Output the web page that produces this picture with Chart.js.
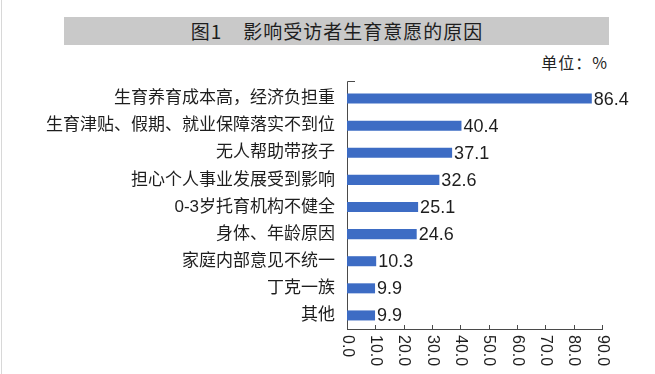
<!DOCTYPE html>
<html>
<head>
<meta charset="utf-8">
<script src="https://cdn.jsdelivr.net/npm/chart.js@4"></script>
<style>
  html, body { margin: 0; padding: 0; background: #fff; }
  #wrap { position: relative; width: 655px; height: 374px; overflow: hidden; }
  #edge { position: absolute; left: 1px; top: 0; width: 1px; height: 374px; background: #d8d8d8; }
  #titleBox {
    position: absolute; left: 64px; top: 17px; width: 544px; height: 28px;
    background: #c9c9c9; color: #1e1e1e;
    font: 19px "Noto Sans CJK SC", sans-serif; letter-spacing: 1px;
    line-height: 28px; text-align: center; padding-left: 1px;
  }
  #unit {
    position: absolute; right: 47px; top: 50px;
    font: 16px "Noto Sans CJK SC", sans-serif; color: #222; letter-spacing: 1px;
  }
  canvas { position: absolute; left: 0; top: 0; }
</style>
</head>
<body>
<div id="wrap">
  <div id="edge"></div>
  <div id="titleBox">图1&ensp;&ensp;影响受访者生育意愿的原因</div>
  <div id="unit">单位：%</div>
  <canvas id="chart" width="655" height="374"></canvas>
</div>
<script>
const causes = [
  "生育养育成本高，经济负担重",
  "生育津贴、假期、就业保障落实不到位",
  "无人帮助带孩子",
  "担心个人事业发展受到影响",
  "0-3岁托育机构不健全",
  "身体、年龄原因",
  "家庭内部意见不统一",
  "丁克一族",
  "其他",
];
const percents = [86.4, 40.4, 37.1, 32.6, 25.1, 24.6, 10.3, 9.9, 9.9];
const axisTicks = [0, 10, 20, 30, 40, 50, 60, 70, 80, 90];

const textFont = '"Liberation Sans", "Noto Sans CJK SC", sans-serif';
const axisColor = "#4a4a4a";

// valeurs au bout des barres + etiquettes de l'axe x tournees
const extras = {
  id: "extras",
  afterDatasetsDraw(chart) {
    const ctx = chart.ctx;
    const meta = chart.getDatasetMeta(0);
    ctx.save();
    ctx.fillStyle = "#1e1e1e";
    ctx.font = "18px " + textFont;
    ctx.textAlign = "left";
    ctx.textBaseline = "middle";
    meta.data.forEach((bar, i) => {
      ctx.fillText(percents[i].toFixed(1), bar.x + 2, bar.y + 1);
    });
    ctx.restore();
  },
  afterDraw(chart) {
    const ctx = chart.ctx;
    const xs = chart.scales.x;
    const area = chart.chartArea;
    ctx.save();
    ctx.strokeStyle = axisColor;
    ctx.lineWidth = 1;
    // prolongement de l'axe y et petit trait en haut
    ctx.beginPath();
    ctx.moveTo(area.left + 0.5, area.top);
    ctx.lineTo(area.left + 0.5, area.top - 3.5);
    ctx.lineTo(area.left + 8, area.top - 3.5);
    ctx.stroke();
    // graduations vers l'interieur
    axisTicks.forEach((v) => {
      const x = Math.round(xs.getPixelForValue(v)) + 0.5;
      ctx.beginPath();
      ctx.moveTo(x, area.bottom);
      ctx.lineTo(x, area.bottom - 4);
      ctx.stroke();
    });
    ctx.fillStyle = "#1e1e1e";
    ctx.font = "16px " + textFont;
    ctx.textAlign = "left";
    ctx.textBaseline = "middle";
    axisTicks.forEach((v) => {
      const x = xs.getPixelForValue(v);
      ctx.save();
      ctx.translate(x, area.bottom + 6);
      ctx.rotate(Math.PI / 2);
      ctx.fillText(v.toFixed(1), 0, 0);
      ctx.restore();
    });
    ctx.restore();
  },
};

new Chart(document.getElementById("chart"), {
  type: "bar",
  data: {
    labels: causes,
    datasets: [
      {
        data: percents,
        backgroundColor: "#3d6cc4",
        borderWidth: 0,
        categoryPercentage: 1,
        barPercentage: 0.37,
      },
    ],
  },
  options: {
    indexAxis: "y",
    responsive: false,
    animation: false,
    events: [],
    layout: { padding: { top: 85, right: 53, left: 0, bottom: 0 } },
    plugins: { legend: { display: false }, tooltip: { enabled: false } },
    scales: {
      x: {
        min: 0,
        max: 90,
        ticks: { display: false, stepSize: 10 },
        grid: { display: false, drawTicks: false },
        border: { display: true, color: axisColor, width: 1 },
        afterFit(scale) {
          scale.height = 45;
        },
      },
      y: {
        ticks: {
          color: "#1e1e1e",
          font: { family: textFont, size: 17 },
          padding: 12,
        },
        grid: { display: false, drawTicks: false },
        border: { display: true, color: axisColor, width: 1 },
        afterFit(scale) {
          scale.width = 347;
        },
      },
    },
  },
  plugins: [extras],
});
</script>
</body>
</html>
